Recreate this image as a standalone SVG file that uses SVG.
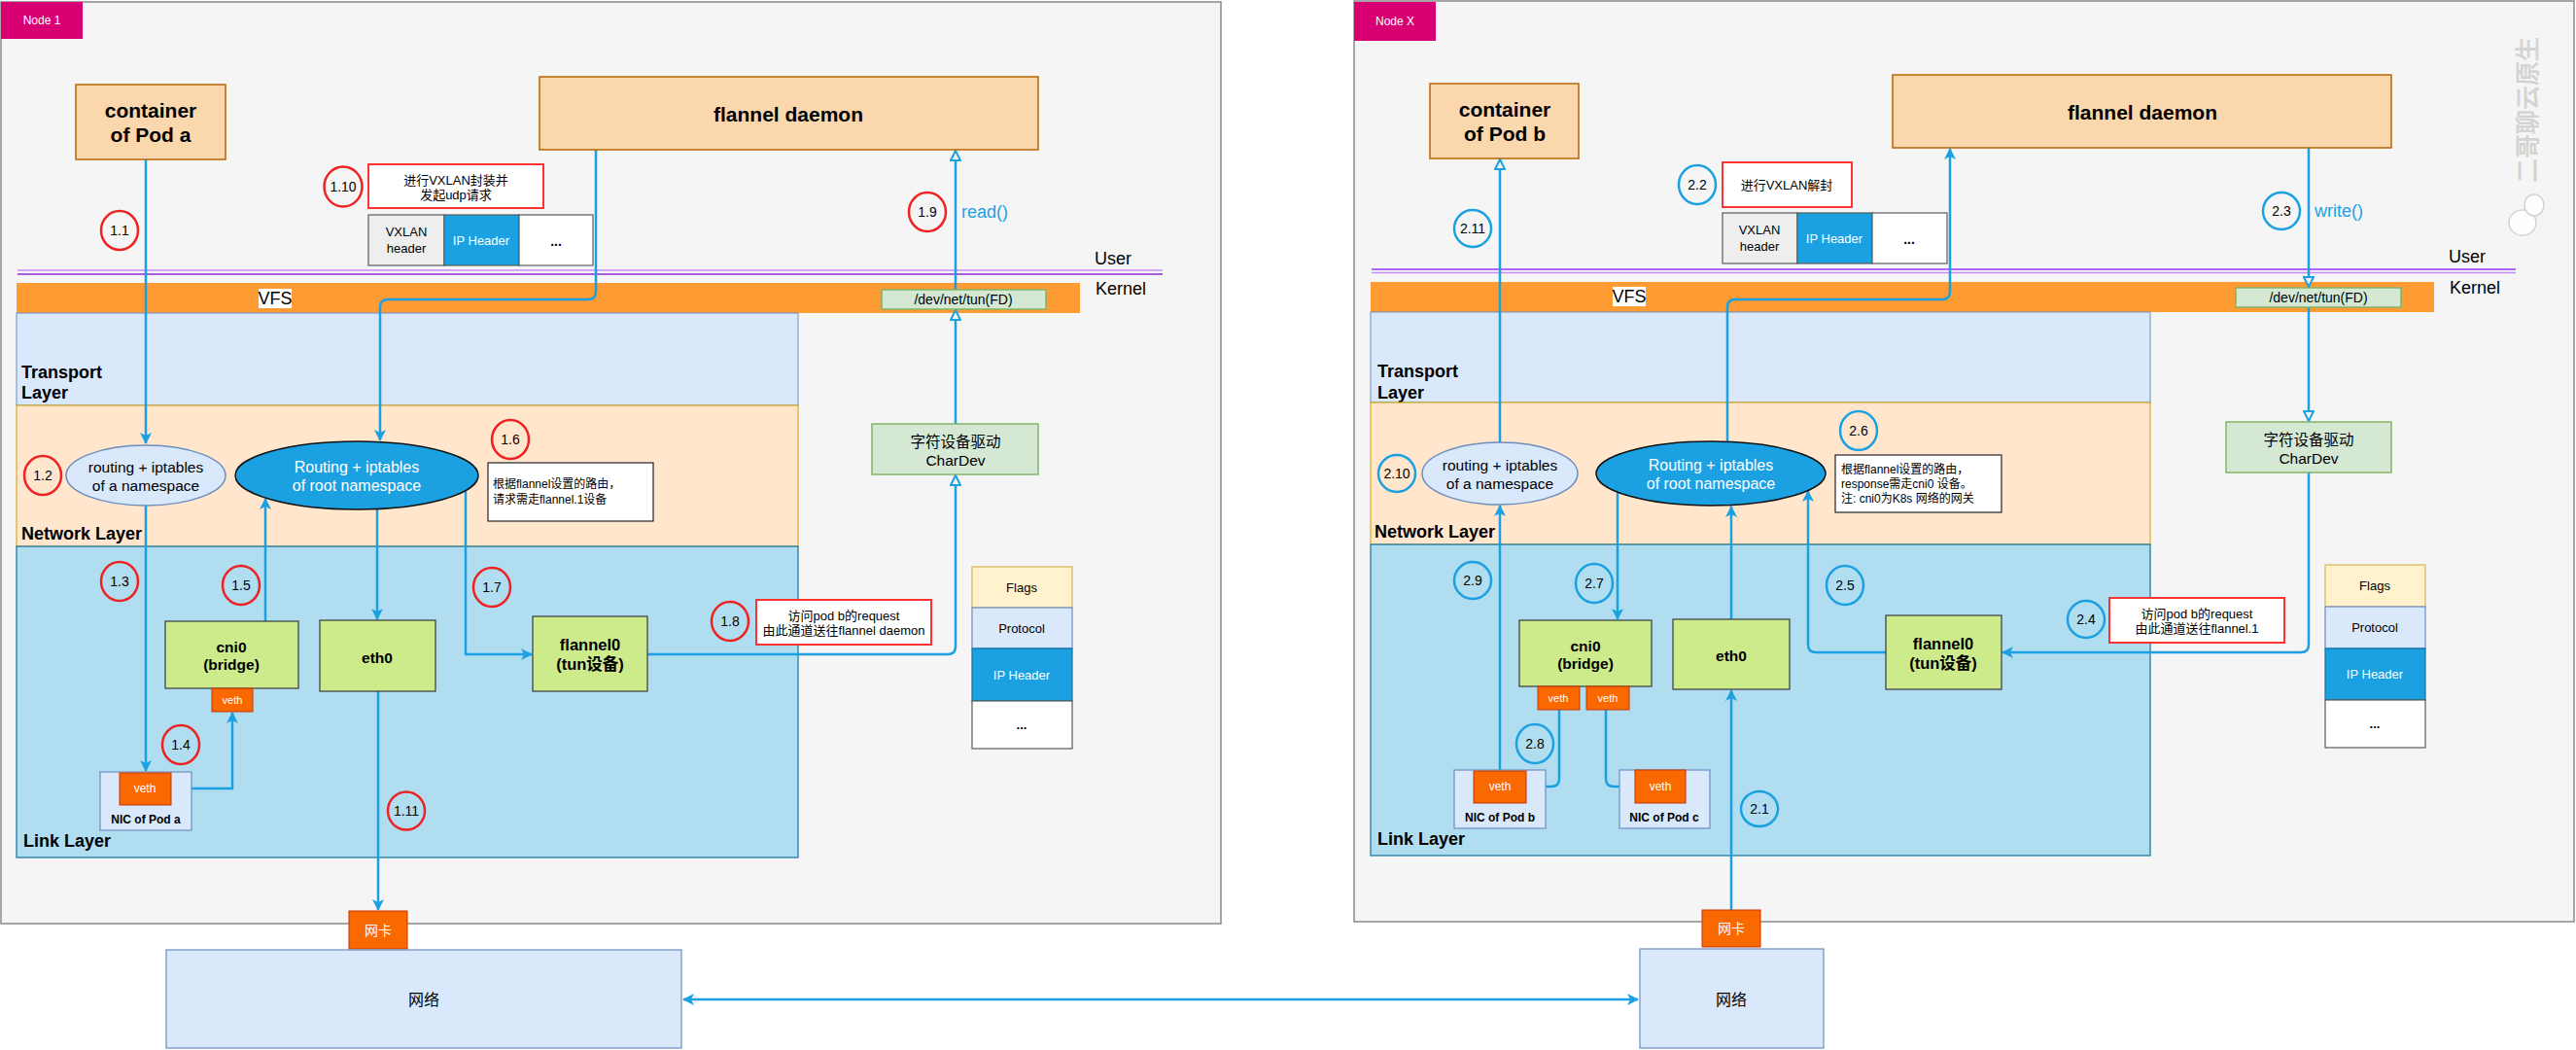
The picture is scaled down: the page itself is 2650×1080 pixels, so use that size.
<svg xmlns="http://www.w3.org/2000/svg" width="2650" height="1080" viewBox="0 0 2650 1080">
<style>
text{font-family:'Liberation Sans','Noto Sans CJK SC',sans-serif;dominant-baseline:central;text-anchor:middle;fill:#000}
.frame{fill:#F5F5F5;stroke:#8A8A8A;stroke-width:1.5}
.tag{fill:#D80073}
.tagt{fill:#fff;font-size:12px}
.box{fill:#FAD7AC;stroke:#B46504;stroke-width:1.5}
.big{font-size:21px;font-weight:bold}
.tl{fill:#DAE8FC;stroke:#6C8EBF;stroke-width:1}
.nl{fill:#FFE6CC;stroke:#D79B00;stroke-width:1}
.ll{fill:#B1DDF0;stroke:#10739E;stroke-width:1.2}
.lay{font-size:18px;font-weight:bold;text-anchor:start}
.vfs{fill:#FF9B33}
.green{fill:#D5E8D4;stroke:#82B366;stroke-width:1.5}
.dev{fill:#CDEB8B;stroke:#36393D;stroke-width:1.2}
.devt{font-size:15.5px;font-weight:bold}
.veth{fill:#FA6800;stroke:#C73500;stroke-width:1}
.vetht{fill:#fff;font-size:12px}
.nic{fill:#DAE8FC;stroke:#6C8EBF;stroke-width:1.2}
.nict{font-size:12px;font-weight:bold}
.nsel{fill:#DAE8FC;stroke:#6C8EBF;stroke-width:1.5}
.rootel{fill:#1BA1E2;stroke:#111;stroke-width:1.5}
.elt{font-size:15.5px}
.rootelt{font-size:16px;fill:#fff}
.red{fill:#fff;stroke:#FF3333;stroke-width:2}
.note{fill:#fff;stroke:#222;stroke-width:1.2}
.small{font-size:13px}
.notet{font-size:12px;text-anchor:start}
.hdr{fill:#EEEEEE;stroke:#5A5A5A;stroke-width:1.2}
.ip{fill:#1BA1E2;stroke:#5A5A5A;stroke-width:1.2}
.ipt{fill:#fff;font-size:13px}
.wh{fill:#fff;stroke:#5A5A5A;stroke-width:1.2}
.flag{fill:#FFF2CC;stroke:#D6B656;stroke-width:1.2}
.prot{fill:#DAE8FC;stroke:#6C8EBF;stroke-width:1.2}
.ipk{fill:#1BA1E2;stroke:#10739E;stroke-width:1.2}
.cr{fill:none;stroke:#EE2222;stroke-width:2.5}
.cb{fill:none;stroke:#1BA1E2;stroke-width:2.5}
.num{font-size:14px}
.blue{fill:#1BA1E2;font-size:18px;text-anchor:start}
.uk{font-size:18px;text-anchor:start}
.c{fill:none;stroke:#1BA1E2;stroke-width:2.5}
.net{fill:#DAE8FC;stroke:#6C8EBF;stroke-width:1.2}
.nett{font-size:16px}
.wk{fill:#FA6800;stroke:#C73500;stroke-width:1}
.wkt{fill:#fff;font-size:14px}
</style>
<defs>
<marker id="af" viewBox="0 0 12 12" refX="11" refY="6" markerWidth="12" markerHeight="12" markerUnits="userSpaceOnUse" orient="auto-start-reverse"><path d="M0,0 L12,6 L0,12 L3,6 z" fill="#1BA1E2"/></marker>
<marker id="ao" viewBox="0 0 12 12" refX="11" refY="6" markerWidth="12" markerHeight="12" markerUnits="userSpaceOnUse" orient="auto"><path d="M1,1 L11,6 L1,11 z" fill="#F5F5F5" stroke="#1BA1E2" stroke-width="2"/></marker>
</defs>

<!-- Node 1 frame -->
<g id="node1-frame">
<rect class="frame" x="1" y="2" width="1255" height="948"/>
<rect class="tag" x="1" y="2" width="84" height="38"/>
<text class="tagt" x="43" y="21">Node 1</text>
</g>
<g id="node1-layers">
<line x1="18" y1="278" x2="1196" y2="278" stroke="#C98BF5" stroke-width="1.5"/>
<line x1="18" y1="282" x2="1196" y2="282" stroke="#8E2BD0" stroke-width="1.5"/>
<text class="uk" x="1126" y="266">User</text>
<text class="uk" x="1127" y="297">Kernel</text>
<rect class="vfs" x="17" y="291" width="1094" height="31"/>
<rect x="266" y="297" width="34" height="20" fill="#fff"/>
<text x="283" y="307" style="font-size:18px">VFS</text>
<rect class="tl" x="17" y="322" width="804" height="95"/>
<text class="lay" x="22" y="383">Transport</text>
<text class="lay" x="22" y="404">Layer</text>
<rect class="nl" x="17" y="417" width="804" height="145"/>
<text class="lay" x="22" y="549">Network Layer</text>
<rect class="ll" x="17" y="562" width="804" height="320"/>
<text class="lay" x="24" y="865">Link Layer</text>
</g>

<!-- Node X frame -->
<g id="nodex-frame">
<rect class="frame" x="1393" y="1" width="1255" height="947"/>
<rect class="tag" x="1393" y="2" width="84" height="40"/>
<text class="tagt" x="1435" y="22">Node X</text>
</g>
<g id="nodex-layers">
<line x1="1411" y1="277" x2="2588" y2="277" stroke="#9933FF" stroke-width="1.5"/>
<line x1="1411" y1="280.5" x2="2588" y2="280.5" stroke="#C98BF5" stroke-width="1.5"/>
<text class="uk" x="2519" y="264">User</text>
<text class="uk" x="2520" y="296">Kernel</text>
<rect class="vfs" x="1410" y="290" width="1094" height="31"/>
<rect x="1659" y="295" width="34" height="20" fill="#fff"/>
<text x="1676" y="305" style="font-size:18px">VFS</text>
<rect class="tl" x="1410" y="321" width="802" height="93"/>
<text class="lay" x="1417" y="382">Transport</text>
<text class="lay" x="1417" y="404">Layer</text>
<rect class="nl" x="1410" y="414" width="802" height="146"/>
<text class="lay" x="1414" y="547">Network Layer</text>
<rect class="ll" x="1410" y="560" width="802" height="320"/>
<text class="lay" x="1417" y="863">Link Layer</text>
</g>

<!-- watermark -->
<g id="watermark" opacity="0.9">
<text x="2600" y="113" transform="rotate(-90 2600 113)" style="font-size:25px;fill:#D2D2D2;stroke:#C8C8C8;stroke-width:0.5">二哥聊云原生</text>
<ellipse cx="2595" cy="229" rx="14" ry="13" fill="#fff" stroke="#D0D0D0" stroke-width="1.5"/>
<ellipse cx="2607" cy="211" rx="10" ry="11" fill="#fff" stroke="#D0D0D0" stroke-width="1.5"/>
</g>

<!-- Connectors -->
<g id="connectors">
<path class="c" d="M150,164 V456" marker-end="url(#af)"/>
<path class="c" d="M150,519 V793" marker-end="url(#af)"/>
<path class="c" d="M176,811 H239 V733" marker-end="url(#af)"/>
<path class="c" d="M273,639 V513" marker-end="url(#af)"/>
<path class="c" d="M388,524 V637" marker-end="url(#af)"/>
<path class="c" d="M479,505 V673 H547" marker-end="url(#af)"/>
<path class="c" d="M666,673 H975 Q983,673 983,665 V489" marker-end="url(#ao)"/>
<path class="c" d="M983,436 V319" marker-end="url(#ao)"/>
<path class="c" d="M983,298 V155" marker-end="url(#ao)"/>
<path class="c" d="M613,154 V300 Q613,308 605,308 H399 Q391,308 391,316 V453" marker-end="url(#af)"/>
<path class="c" d="M389,711 V936" marker-end="url(#af)"/>
<path class="c" d="M703,1028 H1685" marker-start="url(#af)" marker-end="url(#af)"/>

<path class="c" d="M1781,936 V710" marker-end="url(#af)"/>
<path class="c" d="M1781,637 V521" marker-end="url(#af)"/>
<path class="c" d="M1777,454 V316 Q1777,308 1785,308 H1998 Q2006,308 2006,300 V153" marker-end="url(#af)"/>
<path class="c" d="M2375,152 V295" marker-end="url(#ao)"/>
<path class="c" d="M2375,316 V433" marker-end="url(#ao)"/>
<path class="c" d="M2375,486 V663 Q2375,671 2367,671 H2060" marker-end="url(#af)"/>
<path class="c" d="M1940,671 H1868 Q1860,671 1860,663 V505" marker-end="url(#af)"/>
<path class="c" d="M1664,506 V637" marker-end="url(#af)"/>
<path class="c" d="M1604,730 V801 Q1604,809 1596,809 H1571" marker-end="url(#af)"/>
<path class="c" d="M1652,730 V801 Q1652,809 1660,809 H1681" marker-end="url(#af)"/>
<path class="c" d="M1543,793 V520" marker-end="url(#af)"/>
<path class="c" d="M1543,455 V164" marker-end="url(#ao)"/>
</g>

<!-- Node 1 nodes -->
<g id="pod-a"><rect class="box" x="78" y="87" width="154" height="77"/><text class="big" x="155" y="113">container</text><text class="big" x="155" y="138">of Pod a</text></g>
<g id="flannel-daemon-1"><rect class="box" x="555" y="79" width="513" height="75"/><text class="big" x="811" y="117">flannel daemon</text></g>
<g id="note-1-10"><rect class="red" x="379" y="169" width="180" height="45"/><text class="small" x="469" y="185">进行VXLAN封装并</text><text class="small" x="469" y="200">发起udp请求</text></g>
<g id="pkt-1"><rect class="hdr" x="379" y="221" width="78" height="52"/><text class="small" x="418" y="238">VXLAN</text><text class="small" x="418" y="255">header</text><rect class="ip" x="457" y="221" width="77" height="52"/><text class="ipt" x="495" y="247">IP Header</text><rect class="wh" x="534" y="221" width="76" height="52"/><text x="572" y="248" style="font-size:14px;font-weight:bold">...</text></g>
<g id="tun-1"><rect class="green" x="907" y="298" width="169" height="20"/><text x="991" y="308" style="font-size:14px">/dev/net/tun(FD)</text></g>
<g id="read-label"><text class="blue" x="989" y="218">read()</text></g>
<g id="ns-a"><ellipse class="nsel" cx="150" cy="489" rx="82" ry="31"/><text class="elt" x="150" y="480">routing + iptables</text><text class="elt" x="150" y="499">of a namespace</text></g>
<g id="root-ns-1"><ellipse class="rootel" cx="367" cy="489" rx="125" ry="35"/><text class="rootelt" x="367" y="480">Routing + iptables</text><text class="rootelt" x="367" y="499">of root namespace</text></g>
<g id="note-1-6"><rect class="note" x="502" y="476" width="170" height="60"/><text class="notet" x="507" y="498">根据flannel设置的路由，</text><text class="notet" x="507" y="514">请求需走flannel.1设备</text></g>
<g id="chardev-1"><rect class="green" x="897" y="436" width="171" height="52"/><text x="983" y="454" style="font-size:15.5px">字符设备驱动</text><text x="983" y="473" style="font-size:15.5px">CharDev</text></g>
<g id="cni0-1"><rect class="dev" x="170" y="639" width="137" height="69"/><text class="devt" x="238" y="665">cni0</text><text class="devt" x="238" y="683">(bridge)</text></g>
<g id="veth-cni0-1"><rect class="veth" x="218" y="708" width="42" height="24"/><text class="vetht" x="239" y="720" style="font-size:11px">veth</text></g>
<g id="eth0-1"><rect class="dev" x="329" y="638" width="119" height="73"/><text class="devt" x="388" y="676">eth0</text></g>
<g id="flannel0-1"><rect class="dev" x="548" y="634" width="118" height="77"/><text class="devt" x="607" y="663" style="font-size:16.5px">flannel0</text><text class="devt" x="607" y="683" style="font-size:16.5px">(tun设备)</text></g>
<g id="note-1-8"><rect class="red" x="778" y="617" width="180" height="46"/><text class="small" x="868" y="633">访问pod b的request</text><text class="small" x="868" y="648">由此通道送往flannel daemon</text></g>
<g id="stack-1"><rect class="flag" x="1000" y="583" width="103" height="42"/><text class="small" x="1051" y="604">Flags</text><rect class="prot" x="1000" y="625" width="103" height="42"/><text class="small" x="1051" y="646">Protocol</text><rect class="ipk" x="1000" y="667" width="103" height="54"/><text class="ipt" x="1051" y="694">IP Header</text><rect class="wh" x="1000" y="721" width="103" height="49"/><text x="1051" y="745" style="font-size:13px;font-weight:bold">...</text></g>
<g id="nic-a"><rect class="nic" x="103" y="794" width="94" height="60"/><rect class="veth" x="123" y="795" width="53" height="33"/><text class="vetht" x="149" y="811">veth</text><text class="nict" x="150" y="843">NIC of Pod a</text></g>
<g id="wangka-1"><rect class="wk" x="359" y="937" width="60" height="39"/><text class="wkt" x="389" y="957">网卡</text></g>
<g id="net-1"><rect class="net" x="171" y="977" width="530" height="101"/><text class="nett" x="436" y="1028">网络</text></g>

<!-- Node X nodes -->
<g id="pod-b"><rect class="box" x="1471" y="86" width="153" height="77"/><text class="big" x="1548" y="112">container</text><text class="big" x="1548" y="137">of Pod b</text></g>
<g id="flannel-daemon-x"><rect class="box" x="1947" y="77" width="513" height="75"/><text class="big" x="2204" y="115">flannel daemon</text></g>
<g id="note-2-2"><rect class="red" x="1772" y="167" width="133" height="46"/><text class="small" x="1838" y="190">进行VXLAN解封</text></g>
<g id="pkt-x"><rect class="hdr" x="1772" y="219" width="77" height="52"/><text class="small" x="1810" y="236">VXLAN</text><text class="small" x="1810" y="253">header</text><rect class="ip" x="1849" y="219" width="77" height="52"/><text class="ipt" x="1887" y="245">IP Header</text><rect class="wh" x="1926" y="219" width="77" height="52"/><text x="1964" y="246" style="font-size:14px;font-weight:bold">...</text></g>
<g id="tun-x"><rect class="green" x="2300" y="296" width="170" height="20"/><text x="2385" y="306" style="font-size:14px">/dev/net/tun(FD)</text></g>
<g id="write-label"><text class="blue" x="2381" y="217">write()</text></g>
<g id="ns-b"><ellipse class="nsel" cx="1543" cy="487" rx="80" ry="32"/><text class="elt" x="1543" y="478">routing + iptables</text><text class="elt" x="1543" y="497">of a namespace</text></g>
<g id="root-ns-x"><ellipse class="rootel" cx="1760" cy="487" rx="118" ry="33"/><text class="rootelt" x="1760" y="478">Routing + iptables</text><text class="rootelt" x="1760" y="497">of root namespace</text></g>
<g id="note-2-6"><rect class="note" x="1888" y="468" width="171" height="59"/><text class="notet" x="1894" y="483">根据flannel设置的路由，</text><text class="notet" x="1894" y="498">response需走cni0 设备。</text><text class="notet" x="1894" y="513">注: cni0为K8s 网络的网关</text></g>
<g id="chardev-x"><rect class="green" x="2290" y="434" width="170" height="52"/><text x="2375" y="452" style="font-size:15.5px">字符设备驱动</text><text x="2375" y="471" style="font-size:15.5px">CharDev</text></g>
<g id="cni0-x"><rect class="dev" x="1563" y="638" width="136" height="68"/><text class="devt" x="1631" y="664">cni0</text><text class="devt" x="1631" y="682">(bridge)</text></g>
<g id="veth-cni0-x1"><rect class="veth" x="1582" y="706" width="43" height="24"/><text class="vetht" x="1603" y="718" style="font-size:11px">veth</text></g>
<g id="veth-cni0-x2"><rect class="veth" x="1632" y="706" width="44" height="24"/><text class="vetht" x="1654" y="718" style="font-size:11px">veth</text></g>
<g id="eth0-x"><rect class="dev" x="1721" y="637" width="120" height="72"/><text class="devt" x="1781" y="674">eth0</text></g>
<g id="flannel0-x"><rect class="dev" x="1940" y="633" width="119" height="76"/><text class="devt" x="1999" y="662" style="font-size:16.5px">flannel0</text><text class="devt" x="1999" y="682" style="font-size:16.5px">(tun设备)</text></g>
<g id="note-2-4"><rect class="red" x="2170" y="615" width="180" height="46"/><text class="small" x="2260" y="631">访问pod b的request</text><text class="small" x="2260" y="646">由此通道送往flannel.1</text></g>
<g id="stack-x"><rect class="flag" x="2392" y="581" width="103" height="43"/><text class="small" x="2443" y="602">Flags</text><rect class="prot" x="2392" y="624" width="103" height="43"/><text class="small" x="2443" y="645">Protocol</text><rect class="ipk" x="2392" y="667" width="103" height="53"/><text class="ipt" x="2443" y="693">IP Header</text><rect class="wh" x="2392" y="720" width="103" height="49"/><text x="2443" y="744" style="font-size:13px;font-weight:bold">...</text></g>
<g id="nic-b"><rect class="nic" x="1496" y="792" width="94" height="60"/><rect class="veth" x="1516" y="793" width="54" height="33"/><text class="vetht" x="1543" y="809">veth</text><text class="nict" x="1543" y="841">NIC of Pod b</text></g>
<g id="nic-c"><rect class="nic" x="1666" y="792" width="93" height="60"/><rect class="veth" x="1682" y="792" width="52" height="34"/><text class="vetht" x="1708" y="809">veth</text><text class="nict" x="1712" y="841">NIC of Pod c</text></g>
<g id="wangka-x"><rect class="wk" x="1751" y="936" width="60" height="38"/><text class="wkt" x="1781" y="955">网卡</text></g>
<g id="net-x"><rect class="net" x="1687" y="976" width="189" height="102"/><text class="nett" x="1781" y="1028">网络</text></g>

<!-- step markers -->
<g id="steps-1">
<ellipse class="cr" cx="123" cy="237" rx="19" ry="20"/><text class="num" x="123" y="237">1.1</text>
<ellipse class="cr" cx="44" cy="489" rx="19" ry="20"/><text class="num" x="44" y="489">1.2</text>
<ellipse class="cr" cx="123" cy="598" rx="19" ry="20"/><text class="num" x="123" y="598">1.3</text>
<ellipse class="cr" cx="186" cy="766" rx="19" ry="20"/><text class="num" x="186" y="766">1.4</text>
<ellipse class="cr" cx="248" cy="602" rx="19" ry="20"/><text class="num" x="248" y="602">1.5</text>
<ellipse class="cr" cx="525" cy="452" rx="19" ry="20"/><text class="num" x="525" y="452">1.6</text>
<ellipse class="cr" cx="506" cy="604" rx="19" ry="20"/><text class="num" x="506" y="604">1.7</text>
<ellipse class="cr" cx="751" cy="639" rx="19" ry="20"/><text class="num" x="751" y="639">1.8</text>
<ellipse class="cr" cx="954" cy="218" rx="19" ry="20"/><text class="num" x="954" y="218">1.9</text>
<ellipse class="cr" cx="353" cy="192" rx="19.5" ry="20.5"/><text class="num" x="353" y="192">1.10</text>
<ellipse class="cr" cx="418" cy="834" rx="19" ry="19.5"/><text class="num" x="418" y="834">1.11</text>
</g>
<g id="steps-x">
<ellipse class="cb" cx="1810" cy="832" rx="19" ry="18"/><text class="num" x="1810" y="832">2.1</text>
<ellipse class="cb" cx="1746" cy="190" rx="19" ry="20"/><text class="num" x="1746" y="190">2.2</text>
<ellipse class="cb" cx="2347" cy="217" rx="19" ry="19"/><text class="num" x="2347" y="217">2.3</text>
<ellipse class="cb" cx="2146" cy="637" rx="19" ry="19"/><text class="num" x="2146" y="637">2.4</text>
<ellipse class="cb" cx="1898" cy="602" rx="19" ry="20"/><text class="num" x="1898" y="602">2.5</text>
<ellipse class="cb" cx="1912" cy="443" rx="19" ry="20"/><text class="num" x="1912" y="443">2.6</text>
<ellipse class="cb" cx="1640" cy="600" rx="19" ry="20"/><text class="num" x="1640" y="600">2.7</text>
<ellipse class="cb" cx="1579" cy="765" rx="19" ry="20"/><text class="num" x="1579" y="765">2.8</text>
<ellipse class="cb" cx="1515" cy="597" rx="19" ry="19"/><text class="num" x="1515" y="597">2.9</text>
<ellipse class="cb" cx="1437" cy="487" rx="19" ry="19"/><text class="num" x="1437" y="487">2.10</text>
<ellipse class="cb" cx="1515" cy="235" rx="19" ry="19"/><text class="num" x="1515" y="235">2.11</text>
</g>
</svg>
